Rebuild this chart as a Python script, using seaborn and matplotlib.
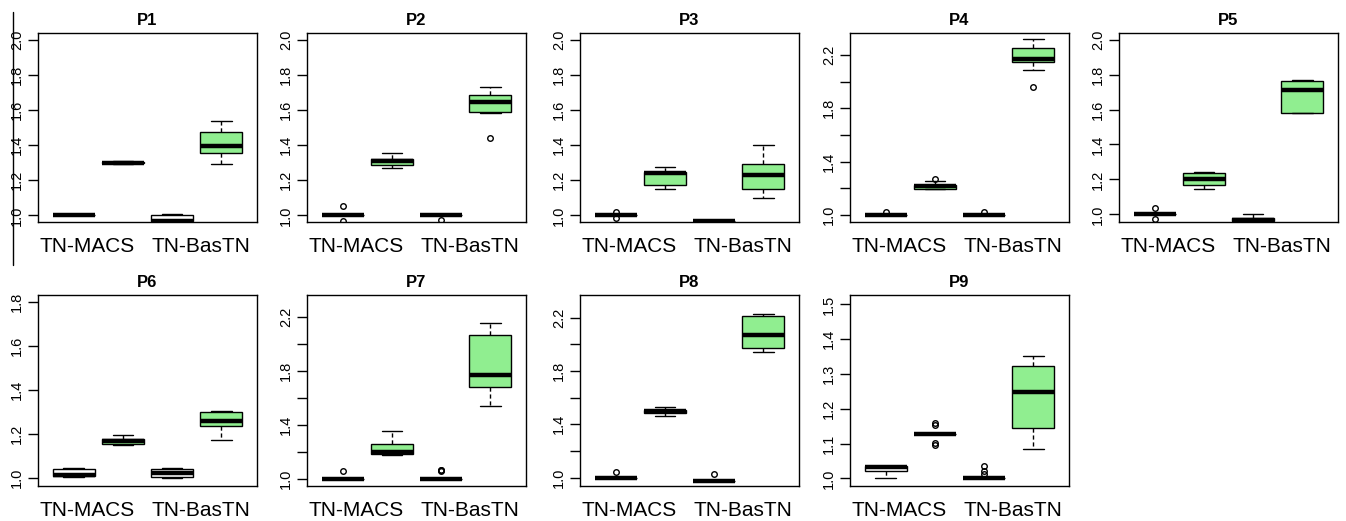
import numpy as np
import pandas as pd
import matplotlib
matplotlib.use("Agg")
import matplotlib.pyplot as plt
import seaborn as sns
from matplotlib.lines import Line2D

# ---------------- data ----------------
groups = ["TN-MACS", "TN-MACS (2)", "TN-BasTN", "TN-BasTN (2)"]
group_colors = ["white", "#90EE90", "white", "#90EE90"]
tick_labels = ["TN-MACS", "TN-BasTN"]
panel_names = ["P1", "P2", "P3", "P4", "P5", "P6", "P7", "P8", "P9"]

p1_values = [[1.0, 1.0, 1.0, 1.0, 1.0],
             [1.29, 1.297, 1.30, 1.303, 1.31],
             [0.96, 0.965, 0.97, 1.0, 1.008],
             [1.29, 1.356, 1.394, 1.476, 1.537]]
p2_values = [[0.968, 1.0, 1.0, 1.0, 1.0, 1.0, 1.0, 1.0, 1.051],
             [1.267, 1.285, 1.31, 1.32, 1.352],
             [0.975, 1.0, 1.0, 1.0, 1.0, 1.0, 1.0, 1.0, 1.0],
             [1.44, 1.585, 1.59, 1.62, 1.648, 1.67, 1.686, 1.71, 1.728]]
p3_values = [[0.985, 1.0, 1.0, 1.0, 1.0, 1.0, 1.0, 1.0, 1.02],
             [1.152, 1.171, 1.242, 1.248, 1.276],
             [0.967, 0.967, 0.967, 0.967, 0.967],
             [1.101, 1.152, 1.232, 1.29, 1.40]]
p4_values = [[1.0, 1.0, 1.0, 1.0, 1.0, 1.0, 1.0, 1.0, 1.017],
             [1.195, 1.196, 1.197, 1.205, 1.214, 1.218, 1.222, 1.25, 1.27],
             [1.0, 1.0, 1.0, 1.0, 1.0, 1.0, 1.0, 1.0, 1.017],
             [1.96, 2.088, 2.147, 2.16, 2.175, 2.22, 2.255, 2.29, 2.322]]
p5_values = [[0.975, 1.0, 1.0, 1.0, 1.0, 1.0, 1.0, 1.0, 1.035],
             [1.143, 1.166, 1.204, 1.238, 1.242],
             [0.955, 0.96, 0.97, 0.977, 1.0],
             [1.578, 1.581, 1.714, 1.766, 1.771]]
p6_values = [[1.005, 1.008, 1.011, 1.041, 1.046],
             [1.15, 1.152, 1.168, 1.178, 1.195],
             [1.0, 1.005, 1.02, 1.038, 1.046],
             [1.171, 1.236, 1.259, 1.30, 1.305]]
p7_values = [[1.0, 1.0, 1.0, 1.0, 1.0, 1.0, 1.0, 1.0, 1.057],
             [1.177, 1.182, 1.20, 1.257, 1.349],
             [1.0, 1.0, 1.0, 1.0, 1.0, 1.0, 1.0, 1.0, 1.0, 1.0, 1.058, 1.062, 1.066],
             [1.539, 1.681, 1.768, 2.06, 2.155]]
p8_values = [[1.0, 1.0, 1.0, 1.0, 1.0, 1.0, 1.0, 1.0, 1.042],
             [1.46, 1.485, 1.498, 1.51, 1.528],
             [0.975, 0.975, 0.975, 0.975, 0.975, 0.975, 0.975, 0.975, 1.025],
             [1.941, 1.971, 2.07, 2.215, 2.227]]
p9_values = [[1.0, 1.021, 1.032, 1.035, 1.035],
             [1.097, 1.103, 1.127, 1.127, 1.127, 1.127, 1.127, 1.127, 1.127, 1.127, 1.127, 1.152, 1.16],
             [1.0, 1.0, 1.0, 1.0, 1.0, 1.0, 1.0, 1.0, 1.0, 1.0, 1.012, 1.022, 1.035],
             [1.083, 1.145, 1.247, 1.324, 1.353]]

panel_values = [p1_values, p2_values, p3_values, p4_values, p5_values,
                p6_values, p7_values, p8_values, p9_values]

# y-axis settings per panel: (ylim, ticks, labelled ticks)
ticks_a = [1.0, 1.2, 1.4, 1.6, 1.8, 2.0]
ticks_b = [1.0, 1.2, 1.4, 1.6, 1.8, 2.0, 2.2]
ticks_c = [1.0, 1.2, 1.4, 1.6, 1.8]
ticks_d = [1.0, 1.1, 1.2, 1.3, 1.4, 1.5]
yset = [
    ((0.962, 2.038), ticks_a, ticks_a),
    ((0.962, 2.038), ticks_a, ticks_a),
    ((0.962, 2.038), ticks_a, ticks_a),
    ((0.945, 2.367), ticks_b, [1.0, 1.4, 1.8, 2.2]),
    ((0.956, 2.038), ticks_a, ticks_a),
    ((0.962, 1.833), ticks_c, ticks_c),
    ((0.945, 2.36), ticks_b, [1.0, 1.4, 1.8, 2.2]),
    ((0.938, 2.369), ticks_b, [1.0, 1.4, 1.8, 2.2]),
    ((0.978, 1.527), ticks_d, ticks_d),
]

# ---------------- style ----------------
sns.set_style("white", {"axes.edgecolor": "black", "text.color": "black",
                        "xtick.color": "black", "ytick.color": "black"})
plt.rcParams["font.family"] = ["Liberation Sans", "DejaVu Sans"]
plt.rcParams["text.color"] = "black"

W, H = 1346, 521
fig = plt.figure(figsize=(W / 100, H / 100), dpi=100)
fig.patch.set_facecolor("white")

col_left = [38, 307, 580, 850, 1119]
ax_w = 219
rows = [(33, 189), (295, 191)]

palette = dict(zip(groups, group_colors))

for i, (name, vals) in enumerate(zip(panel_names, panel_values)):
    r, c = divmod(i, 5)
    top, hgt = rows[r]
    left = col_left[c]
    ax = fig.add_axes([left / W, 1 - (top + hgt) / H, ax_w / W, hgt / H])

    recs = []
    for g, v in zip(groups, vals):
        for val in v:
            recs.append((g, val))
    df = pd.DataFrame(recs, columns=["group", "value"])

    sns.boxplot(data=df, x="group", y="value", hue="group", order=groups,
                hue_order=groups, palette=palette, saturation=1, width=0.85,
                linecolor="black", linewidth=1, legend=False, ax=ax,
                medianprops=dict(linewidth=3.2, color="black"),
                whiskerprops=dict(linestyle=(0, (3, 2)), linewidth=1),
                capprops=dict(linewidth=1),
                flierprops=dict(marker="o", markerfacecolor="none",
                                markeredgecolor="black", markersize=4,
                                markeredgewidth=1))

    ylim, yt, ylab = yset[i]
    ax.set_ylim(*ylim)
    ax.set_xlim(-0.73, 3.73)
    ax.set_yticks(yt)
    ax.set_yticklabels([f"{t:.1f}" if t in ylab else "" for t in yt])
    ax.set_xticks([0.28, 2.58])
    ax.set_xticklabels(tick_labels, fontsize=15, color="black")
    ax.tick_params(axis="x", length=0, pad=11, colors="black")
    ax.tick_params(axis="y", left=True, length=7, width=1, direction="out",
                   labelsize=10.5, pad=3, labelrotation=90, colors="black")
    for lab in ax.get_yticklabels():
        lab.set_va("center")
    ax.set_xlabel("")
    ax.set_ylabel("")
    for sp in ax.spines.values():
        sp.set_visible(True)
        sp.set_color("black")
        sp.set_linewidth(1)
    ax.set_title(name, fontsize=12, fontweight="bold", pad=6, color="black")

fig.add_artist(Line2D([12.5 / W, 12.5 / W], [1 - 12 / H, 1 - 265 / H],
                      color="black", linewidth=1))

fig.savefig("out.png", dpi=100, facecolor="white")
